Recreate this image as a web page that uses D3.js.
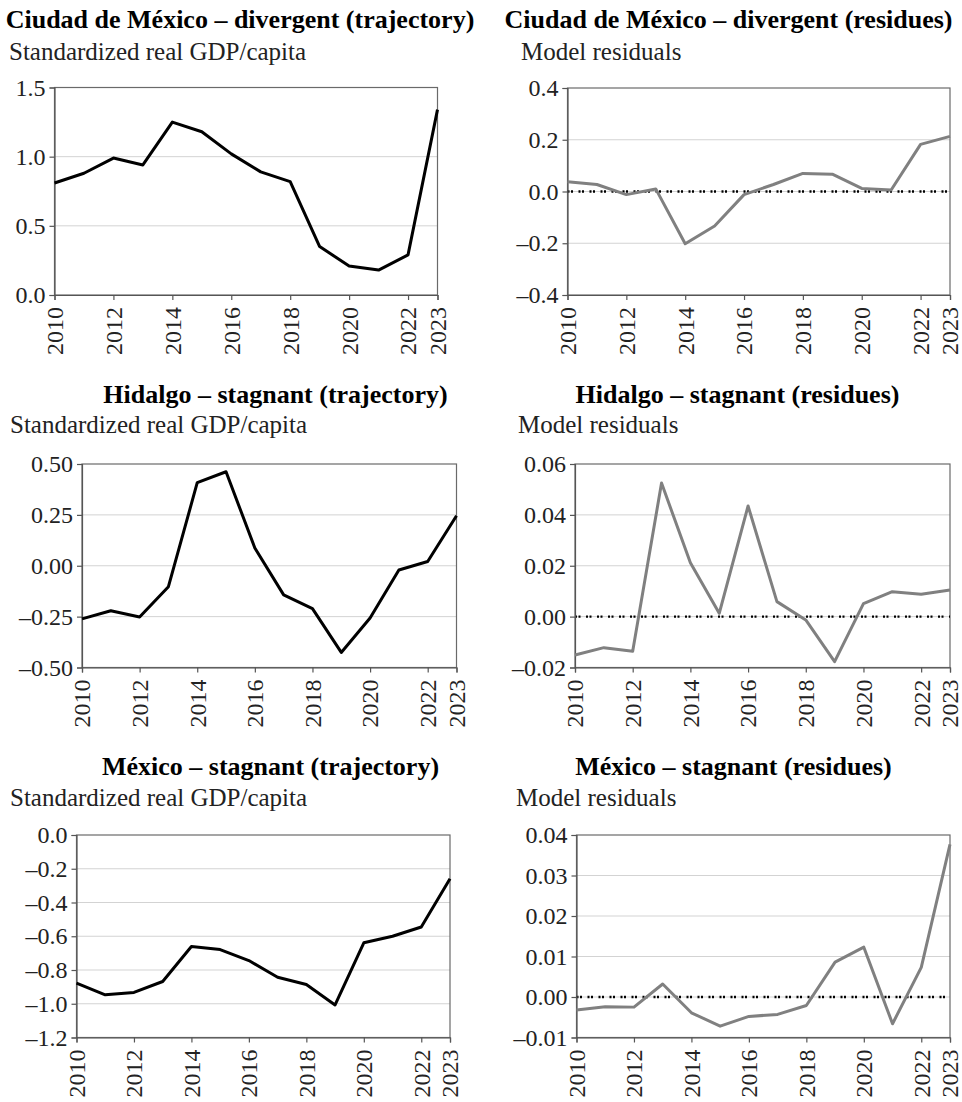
<!DOCTYPE html>
<html>
<head>
<meta charset="utf-8">
<script src="https://cdn.jsdelivr.net/npm/d3@7"></script>
<style>
  html, body { margin: 0; padding: 0; background: #fff; }
  svg { display: block; }
  text { font-family: "Liberation Serif", "Times New Roman", serif; }
</style>
</head>
<body>
<svg id="chart" width="962" height="1102"></svg>
<script>
// ---------------- DATA ----------------
const years = [2010, 2011, 2012, 2013, 2014, 2015, 2016, 2017, 2018, 2019, 2020, 2021, 2022, 2023];
const yearTicks = [2010, 2012, 2014, 2016, 2018, 2020, 2022, 2023];

const cdmxTrajectory = [0.81, 0.88, 0.99, 0.94, 1.25, 1.18, 1.02, 0.89, 0.82, 0.35, 0.21, 0.18, 0.29, 1.34];
const cdmxResiduals  = [0.038, 0.027, -0.012, 0.010, -0.202, -0.133, -0.012, 0.027, 0.070, 0.067, 0.012, 0.006, 0.182, 0.213];
const hgoTrajectory  = [-0.261, -0.221, -0.252, -0.103, 0.408, 0.462, 0.087, -0.143, -0.211, -0.426, -0.257, -0.021, 0.021, 0.246];
const hgoResiduals   = [-0.0151, -0.0122, -0.0136, 0.0525, 0.0212, 0.0013, 0.0435, 0.0059, -0.0013, -0.0177, 0.0051, 0.0098, 0.0088, 0.0105];
const mexTrajectory  = [-0.878, -0.947, -0.933, -0.868, -0.661, -0.679, -0.744, -0.843, -0.886, -1.007, -0.639, -0.600, -0.545, -0.259];
const mexResiduals   = [-0.0032, -0.0024, -0.0025, 0.0032, -0.0039, -0.0072, -0.0048, -0.0043, -0.0021, 0.0086, 0.0123, -0.0066, 0.0073, 0.0377];

const cdmxTrajTicks  = [0.0, 0.5, 1.0, 1.5];
const cdmxResidTicks = [-0.4, -0.2, 0.0, 0.2, 0.4];
const hgoTrajTicks   = [-0.50, -0.25, 0.00, 0.25, 0.50];
const hgoResidTicks  = [-0.02, 0.00, 0.02, 0.04, 0.06];
const mexTrajTicks   = [-1.2, -1.0, -0.8, -0.6, -0.4, -0.2, 0.0];
const mexResidTicks  = [-0.01, 0.00, 0.01, 0.02, 0.03, 0.04];

const titles = [
  "Ciudad de México – divergent (trajectory)",
  "Ciudad de México – divergent (residues)",
  "Hidalgo – stagnant (trajectory)",
  "Hidalgo – stagnant (residues)",
  "México – stagnant (trajectory)",
  "México – stagnant (residues)"
];
const subtitleTrajectory = "Standardized real GDP/capita";
const subtitleResiduals = "Model residuals";

// ---------------- LAYOUT ----------------
const panels = [
  { title: titles[0], sub: subtitleTrajectory, values: cdmxTrajectory, ticks: cdmxTrajTicks, dec: 1, resid: false,
    box: { l: 54.5, r: 437.5, t: 87.5, b: 295 }, titleX: 240, titleY: 28, subX: 9, subY: 60 },
  { title: titles[1], sub: subtitleResiduals, values: cdmxResiduals, ticks: cdmxResidTicks, dec: 1, resid: true,
    box: { l: 567.5, r: 950, t: 88, b: 295 }, titleX: 728.5, titleY: 28, subX: 521, subY: 60 },
  { title: titles[2], sub: subtitleTrajectory, values: hgoTrajectory, ticks: hgoTrajTicks, dec: 2, resid: false,
    box: { l: 82, r: 456.5, t: 464, b: 667.5 }, titleX: 275.5, titleY: 403, subX: 10, subY: 433 },
  { title: titles[3], sub: subtitleResiduals, values: hgoResiduals, ticks: hgoResidTicks, dec: 2, resid: true,
    box: { l: 575, r: 950, t: 464, b: 667.5 }, titleX: 737.5, titleY: 403, subX: 518, subY: 433 },
  { title: titles[4], sub: subtitleTrajectory, values: mexTrajectory, ticks: mexTrajTicks, dec: 1, resid: false,
    box: { l: 76.5, r: 450, t: 835, b: 1037.5 }, titleX: 270.5, titleY: 775, subX: 10, subY: 806 },
  { title: titles[5], sub: subtitleResiduals, values: mexResiduals, ticks: mexResidTicks, dec: 2, resid: true,
    box: { l: 576.5, r: 950, t: 835, b: 1037.5 }, titleX: 733.5, titleY: 775, subX: 516, subY: 806 }
];

const svg = d3.select("#chart");

panels.forEach(p => {
  const g = svg.append("g");
  const { l, r, t, b } = p.box;
  const x = d3.scaleLinear().domain([years[0], years[years.length - 1]]).range([l, r]);
  const y = d3.scaleLinear().domain([p.ticks[0], p.ticks[p.ticks.length - 1]]).range([b, t]);
  const fmt = v => d3.format("." + p.dec + "f")(v).replace("−", "–").replace("-", "–");

  // title & subtitle
  g.append("text").attr("x", p.titleX).attr("y", p.titleY)
    .attr("text-anchor", "middle").attr("font-size", 26).attr("font-weight", "bold")
    .attr("fill", "#000").text(p.title);
  g.append("text").attr("x", p.subX).attr("y", p.subY)
    .attr("font-size", 25).attr("fill", "#222").text(p.sub);

  // gridlines
  g.append("g").selectAll("line")
    .data(p.ticks.slice(1, -1))
    .join("line")
    .attr("x1", l).attr("x2", r)
    .attr("y1", d => y(d)).attr("y2", d => y(d))
    .attr("stroke", "#d3d3d3").attr("stroke-width", 1);

  // frame
  g.append("rect").attr("x", l).attr("y", t).attr("width", r - l).attr("height", b - t)
    .attr("fill", "none").attr("stroke", "#6a6a6a").attr("stroke-width", 1.2);

  // zero reference line for residuals
  if (p.resid) {
    g.append("line").attr("x1", l).attr("x2", r).attr("y1", y(0)).attr("y2", y(0))
      .attr("stroke", "#000").attr("stroke-width", 2.4).attr("stroke-dasharray", "2,1.5,2,5.5");
  }

  // axes
  const yAxis = g.append("g").attr("transform", `translate(${l},0)`)
    .call(d3.axisLeft(y).tickValues(p.ticks).tickSize(5).tickPadding(4).tickFormat(fmt));
  yAxis.select(".domain").attr("stroke", "#555").attr("stroke-width", 1.2);
  yAxis.selectAll(".tick line").attr("stroke", "#555").attr("stroke-width", 1.2);
  yAxis.selectAll(".tick text").attr("font-size", 24).attr("fill", "#222")
    .attr("font-family", "Liberation Serif, serif");

  const xAxis = g.append("g").attr("transform", `translate(0,${b})`)
    .call(d3.axisBottom(x).tickValues(yearTicks).tickSize(5).tickFormat(d3.format("d")));
  xAxis.select(".domain").attr("stroke", "#555").attr("stroke-width", 1.2);
  xAxis.selectAll(".tick line").attr("stroke", "#555").attr("stroke-width", 1.2);
  xAxis.selectAll(".tick text")
    .attr("font-size", 24).attr("fill", "#222").attr("font-family", "Liberation Serif, serif")
    .attr("text-anchor", "end")
    .attr("transform", "translate(0,12) rotate(-90)")
    .attr("x", 0).attr("y", 0).attr("dy", "0.33em");

  // data line
  const line = d3.line().x((d, i) => x(years[i])).y(d => y(d));
  g.append("path").datum(p.values)
    .attr("d", line).attr("fill", "none")
    .attr("stroke", p.resid ? "#808080" : "#000")
    .attr("stroke-width", 3)
    .attr("stroke-linejoin", "round");
});
</script>
</body>
</html>
